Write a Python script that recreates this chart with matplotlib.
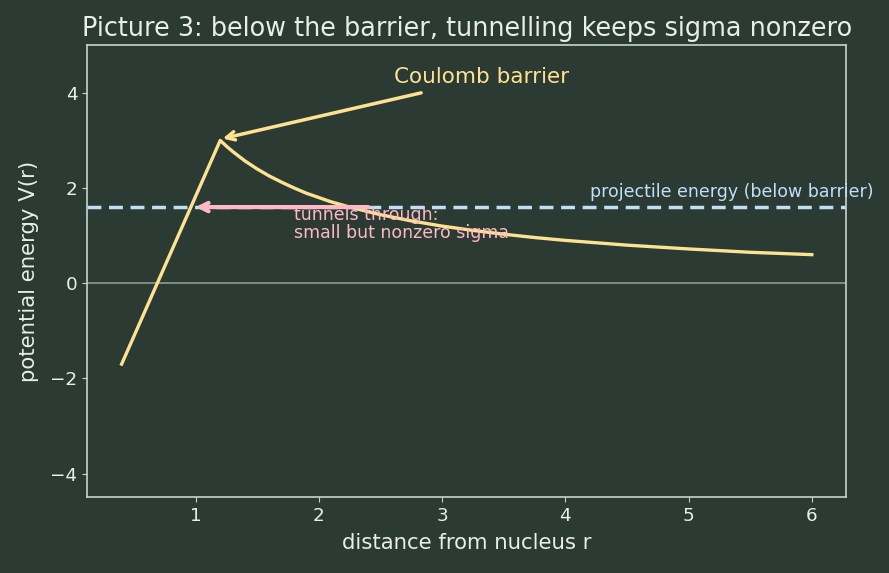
import matplotlib
matplotlib.use("Agg")
import matplotlib.pyplot as plt

# potential
r_vals = [0.4, 1.2, 1.25, 1.3, 1.35, 1.4, 1.5, 1.6, 1.7, 1.8, 1.9, 2.0, 2.1,
          2.25, 2.5, 2.75, 3.0, 3.25, 3.5, 3.75, 4.0, 4.5, 5.0, 5.5, 6.0]
v_vals = [-1.7, 3.0, 2.88, 2.77, 2.67, 2.57, 2.4, 2.25, 2.12, 2.0, 1.89, 1.8,
          1.71, 1.6, 1.44, 1.31, 1.2, 1.11, 1.03, 0.96, 0.9, 0.8, 0.72, 0.65,
          0.6]

energy = 1.6
peak_r, peak_v = 1.2, 3.0
tunnel_from, tunnel_to = 2.4, 1.0

bg = "#2b3b33"
fg = "#e8efe6"
spine_col = "#c5d6c9"
yellow = "#ffe291"
blue = "#bfe0f7"
pink = "#ffb8c6"

fig, ax = plt.subplots(figsize=(8.89, 5.73), dpi=100)
fig.patch.set_facecolor(bg)
ax.set_facecolor(bg)

ax.axhline(0, color="#8d9c92", lw=1.2)
ax.plot(r_vals, v_vals, color=yellow, lw=2.4)
ax.axhline(energy, color=blue, lw=2.5, ls=(0, (4, 2.2)))

# barrier label + arrow
ax.text(3.32, 4.33, "Coulomb barrier", ha="center", va="center",
        color=yellow, fontsize=15.5)
ax.annotate("", xy=(peak_r + 0.02, peak_v + 0.04), xytext=(2.83, 4.0),
            arrowprops=dict(arrowstyle="->", color=yellow, lw=2.5,
                            shrinkA=0, shrinkB=0, mutation_scale=15))
ax.annotate("", xy=(tunnel_to, energy), xytext=(tunnel_from, energy),
            arrowprops=dict(arrowstyle="->", color=pink, lw=3,
                            shrinkA=0, shrinkB=0, mutation_scale=15))
ax.text(1.8, 1.63, "tunnels through:\nsmall but nonzero sigma", color=pink,
        fontsize=12.5, ha="left", va="top", linespacing=1.05)
ax.text(4.2, 1.72, "projectile energy (below barrier)", color=blue,
        fontsize=12.5, ha="left", va="bottom", clip_on=False)

ax.set_ylim(-4.5, 5)
ax.set_xticks([1, 2, 3, 4, 5, 6])
ax.set_yticks([-4, -2, 0, 2, 4])
ax.set_title("Picture 3: below the barrier, tunnelling keeps sigma nonzero",
             color=fg, fontsize=18.4, pad=7)
ax.set_xlabel("distance from nucleus r", color=fg, fontsize=15.3, labelpad=6)
ax.set_ylabel("potential energy V(r)", color=fg, fontsize=15.3, labelpad=8)
ax.tick_params(colors=spine_col, labelcolor=fg, labelsize=13.2)
for s in ax.spines.values():
    s.set_color(spine_col)
    s.set_linewidth(1.2)

fig.subplots_adjust(left=0.098, right=0.952, top=0.921, bottom=0.132)
fig.savefig("out.png", dpi=100, facecolor=bg)
